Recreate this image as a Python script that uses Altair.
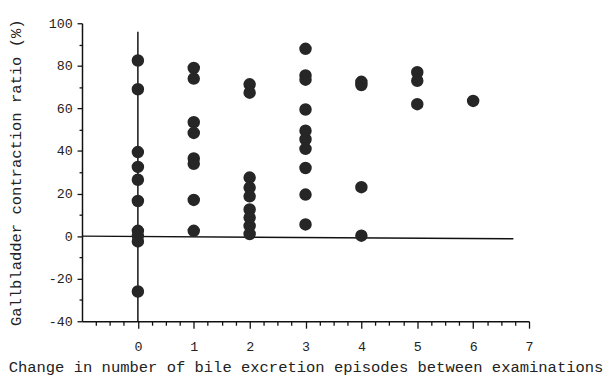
import altair as alt
import pandas as pd

# Points read per x category
col_x = [0, 1, 2, 3, 4, 5, 6]
col_y = [
    [82.5, 69, 39.5, 32.5, 26.5, 16.5, 2.5, 0, -2.5, -26],
    [79, 74, 53.5, 48.5, 36.5, 34, 17, 2.5],
    [71.3, 67.4, 27.5, 22.8, 18.7, 12.5, 8.7, 4.8, 1],
    [88, 75.5, 73.5, 59.5, 49.5, 45.5, 41, 32, 19.5, 5.5],
    [72.5, 71, 23, 0.2],
    [77, 73, 62],
    [63.5],
]

x_ticks = [i / 4 for i in range(-3, 29)]          # every 0.25, labels on integers
y_ticks = list(range(-40, 101, 10))                # every 10, labels on multiples of 20

x_title = "Change in number of bile excretion episodes between examinations"
y_title = "Gallbladder contraction ratio (%)"

rows = []
for xv, ys in zip(col_x, col_y):
    for yv in ys:
        rows.append({"x": xv, "y": yv})
pts = pd.DataFrame(rows)

hline = pd.DataFrame({"x": [-1], "x2": [6.72], "y": [0], "y2": [-1.2]})
vline = pd.DataFrame({"x": [0], "y": [-40], "y2": [96]})

FONT = "Liberation Mono"
xs = alt.Scale(domain=[-1, 7], nice=False, zero=False)
ys_ = alt.Scale(domain=[-40, 100], nice=False, zero=False)

x_axis = alt.Axis(
    orient="bottom", values=x_ticks, tickCount=100, title=x_title, grid=False,
    labelExpr="datum.value % 1 === 0 ? toString(datum.value) : ''",
    tickSize={"condition": {"test": "datum.value % 1 === 0", "value": 7}, "value": 4},
    labelPadding=12, titlePadding=6, labelFlush=False, labelOverlap=False,
)
y_axis = alt.Axis(
    orient="left", values=y_ticks, tickCount=100, title=y_title, grid=False,
    labelExpr="datum.value % 20 === 0 ? toString(datum.value) : ''",
    tickSize={"condition": {"test": "datum.value % 20 === 0", "value": 5}, "value": 3},
    labelPadding=5, titlePadding=25, labelFlush=False, labelOverlap=False,
)

h = alt.Chart(hline).mark_rule(color="#111", strokeWidth=1.5).encode(
    x=alt.X("x:Q", scale=xs, axis=x_axis),
    x2="x2:Q",
    y=alt.Y("y:Q", scale=ys_, axis=y_axis),
    y2="y2:Q",
)

v = alt.Chart(vline).mark_rule(color="#111", strokeWidth=1.5).encode(
    x=alt.X("x:Q", scale=xs, axis=x_axis),
    y=alt.Y("y:Q", scale=ys_, axis=y_axis),
    y2="y2:Q",
)

points = alt.Chart(pts).mark_circle(size=160, color="#262626", opacity=1).encode(
    x=alt.X("x:Q", scale=xs, axis=x_axis),
    y=alt.Y("y:Q", scale=ys_, axis=y_axis),
)

chart = (
    alt.layer(h, v, points)
    .properties(
        width=453, height=302,
        autosize=alt.AutoSizeParams(type="none"),
        padding={"left": 75, "top": 13, "right": 77, "bottom": 53},
    )
    .configure_view(stroke=None)
    .configure_axis(
        domainColor="#111", tickColor="#111", domainWidth=1.5, tickWidth=1.3,
        labelFont=FONT, titleFont=FONT, labelFontSize=13.5, titleFontSize=15.7,
        labelColor="#222", titleColor="#222", titleFontWeight="normal",
    )
)

chart.save("out.html", embed_options={"renderer": "svg", "actions": False})
